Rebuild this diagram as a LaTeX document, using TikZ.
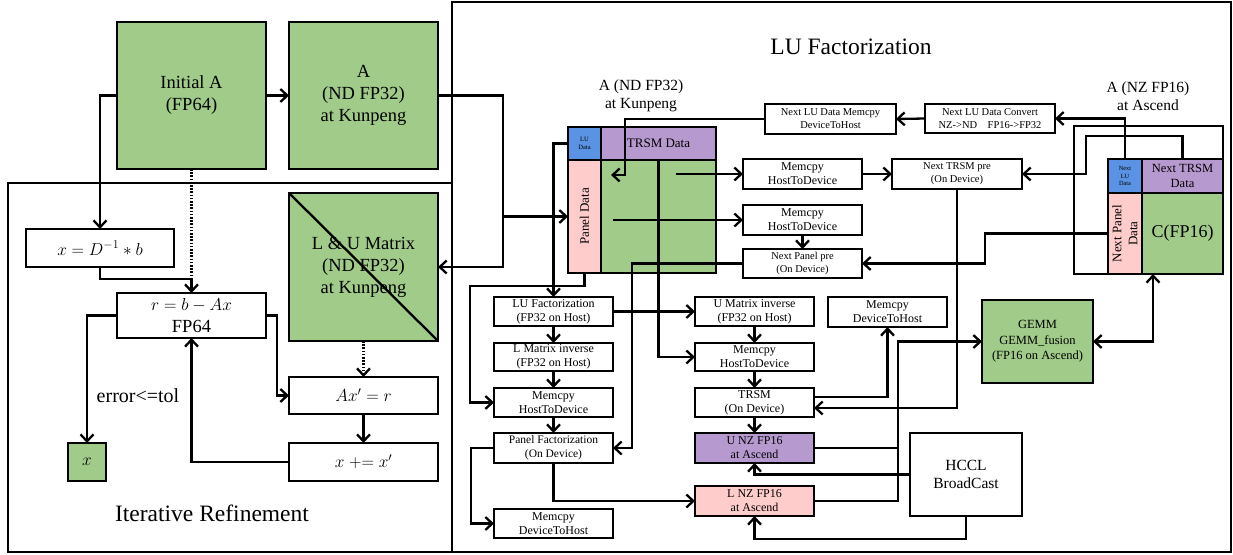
\documentclass[tikz,border=0pt]{standalone}
\usepackage{fontspec}
\setmainfont{Liberation Serif}
\usetikzlibrary{arrows.meta,calc}

\definecolor{mgreen}{HTML}{A1CB89}
\definecolor{mpurple}{HTML}{B699CF}
\definecolor{mblue}{HTML}{5A93E3}
\definecolor{mpink}{HTML}{FFCCCC}

\newcommand\fsz[2]{\fontsize{#1}{#2}\selectfont}
% \mkbox{name}{x1}{y1}{x2}{y2}{style}{text}: a box given by its corners
\newcommand\mkbox[7]{\node[#6, minimum width={(#4-#2)*1pt}, minimum height={(#5-#3)*1pt}] (#1) at ({(#2+#4)/2},{(#3+#5)/2}) {#7};}

\tikzset{
  box/.style={draw, line width=2.3pt, inner sep=0pt, outer sep=0pt, align=center},
  big/.style={box, font=\fsz{18.5}{22}},
  mid/.style={box, font=\fsz{12}{14}},
  small/.style={box, font=\fsz{10.5}{13}},
  wire/.style={line width=2.3pt},
  tip/.style={Straight Barb[length=7pt,width=13pt]},
  arr/.style={wire, -{Straight Barb[length=7pt,width=13pt]}},
  arrboth/.style={wire, {Straight Barb[length=7pt,width=13pt]}-{Straight Barb[length=7pt,width=13pt]}},
  dots/.style={line width=2.3pt, dash pattern=on 1.6pt off 1.6pt},
  title/.style={align=center, inner sep=0pt},
}

\begin{document}
\begin{tikzpicture}[x=1pt, y=-1pt]
\useasboundingbox (0,0) rectangle (1233,554);

% frames
\draw[wire] (8,183) rectangle (452,552);
\draw[wire] (452,2) rectangle (1231,552);
\node[title, font=\fsz{23.5}{28}] (tLU) at (851,47) {LU Factorization};
\node[title, font=\fsz{23.5}{28}] (tIR) at (212,513) {Iterative Refinement};

% ---------- iterative refinement ----------
\mkbox{initA}{117}{22}{266}{169}{big, fill=mgreen}{Initial A\\(FP64)}
\mkbox{aKun}{289}{22}{438}{169}{big, fill=mgreen}{A\\(ND FP32)\\at Kunpeng}
\mkbox{dinv}{26}{229}{174}{267}{big}{$x = D^{-1} * b$}
\mkbox{resid}{117}{293}{266}{338}{big}{$r = b - Ax$\\FP64}
\mkbox{xout}{68}{443}{106}{481}{big, fill=mgreen}{$x$}
\mkbox{luKun}{289}{193}{438}{341}{big, fill=mgreen}{L \& U Matrix\\(ND FP32)\\at Kunpeng}
\mkbox{solve}{289}{377}{438}{414}{big}{$Ax' = r$}
\mkbox{upd}{289}{443}{438}{481}{big}{$x \mathrel{+}= x'$}
\draw[wire] (luKun.north west) -- (luKun.south east);
\node[title, font=\fsz{20}{24}] (tol) at (138,396) {error<=tol};

\coordinate (j1) at (191.5,279);
\draw[arr] (initA.west) -| (dinv.north);
\draw[arr] (initA) -- (aKun);
\draw[dots] (initA.south) -- (j1);
\draw[arr] (dinv.south) |- (j1) -- (resid.north);
\draw[arr] (resid.west) -| (xout.north);
\draw[arr] (resid.east) -- ++(11,0) |- (solve.west);
\draw[arr] (solve) -- (upd);
\draw[arr] (upd.west) -| (resid.south);
\draw[dots, -{Straight Barb[length=7pt,width=13pt]}] (luKun.south) -- (solve.north);

% ---------- A at Kunpeng ----------
\node[title, font=\fsz{15.5}{18.3}] (tKun) at (641,96) {A (ND FP32)\\at Kunpeng};
\mkbox{luD}{568}{127}{601}{160}{box, fill=mblue, font=\fsz{6.5}{8}}{LU\\Data}
\mkbox{trsmD}{601}{127}{716}{160}{box, fill=mpurple, font=\fsz{13}{15}}{TRSM Data}
\mkbox{panel}{568}{160}{601}{273}{box, fill=mpink}{}
\mkbox{trail}{601}{160}{716}{273}{box, fill=mgreen}{}
\node[title, rotate=90, font=\fsz{13}{15}] (panelT) at (panel) {Panel Data};

\coordinate (jA) at (503,216.5);
\draw[arr] (aKun.east) -- ++(65,0) |- (luKun.east);
\draw[arr] (jA) -- (panel.west);

% ---------- host / device steps ----------
\mkbox{nluM}{765}{104}{896}{134}{small}{Next LU Data Memcpy\\DeviceToHost}
\mkbox{nluC}{925}{104}{1055}{133}{small}{Next LU Data Convert\\NZ->ND\quad FP16->FP32}
\mkbox{m1}{743}{159}{862}{189}{mid}{Memcpy\\HostToDevice}
\mkbox{ntrsm}{892}{159}{1022}{189}{small}{Next TRSM pre\\(On Device)}
\mkbox{m2}{743}{205}{862}{235}{mid}{Memcpy\\HostToDevice}
\mkbox{npanel}{743}{249}{862}{278}{small}{Next Panel pre\\(On Device)}

\mkbox{luF}{494}{297}{613}{326}{mid}{LU Factorization\\(FP32 on Host)}
\mkbox{lInv}{494}{343}{613}{371}{mid}{L Matrix inverse\\(FP32 on Host)}
\mkbox{m3}{494}{388}{613}{417}{mid}{Memcpy\\HostToDevice}
\mkbox{pF}{494}{433}{613}{463}{mid, font=\fsz{11.5}{14}}{Panel Factorization\\(On Device)}
\mkbox{m4}{494}{509}{613}{538}{mid}{Memcpy\\DeviceToHost}

\mkbox{uInv}{695}{297}{814}{326}{mid}{U Matrix inverse\\(FP32 on Host)}
\mkbox{m5}{695}{343}{814}{371}{mid}{Memcpy\\HostToDevice}
\mkbox{trsm}{695}{388}{814}{417}{mid}{TRSM\\(On Device)}
\mkbox{uNZ}{695}{433}{814}{463}{mid, fill=mpurple}{U NZ FP16\\at Ascend}
\mkbox{lNZ}{695}{486}{814}{516}{mid, fill=mpink}{L NZ FP16\\at Ascend}
\mkbox{m6}{828}{297}{947}{327}{mid}{Memcpy\\DeviceToHost}

\mkbox{gemm}{982}{300}{1093}{383}{box, fill=mgreen, font=\fsz{12.5}{15.5}}{GEMM\\GEMM\_fusion\\(FP16 on Ascend)}
\mkbox{hccl}{910}{433}{1022}{516}{box, font=\fsz{15.5}{18.3}}{HCCL\\BroadCast}

% ---------- A at Ascend ----------
\node[title, font=\fsz{15.5}{18.3}] (tAsc) at (1148,96) {A (NZ FP16)\\at Ascend};
\mkbox{nluD}{1108}{159}{1142}{193}{box, fill=mblue, font=\fsz{6.3}{7.3}}{Next\\LU\\Data}
\mkbox{ntrsmD}{1142}{159}{1223}{193}{box, fill=mpurple, font=\fsz{12.5}{15}}{Next TRSM\\Data}
\mkbox{npanelD}{1108}{193}{1142}{274}{box, fill=mpink}{}
\mkbox{cfp}{1142}{193}{1223}{274}{box, fill=mgreen, font=\fsz{18}{21}}{C(FP16)}
\node[title, rotate=90, font=\fsz{13}{16}] (npanelT) at (npanelD) {Next Panel\\Data};

% ---------- connectors in the LU part ----------
\coordinate (t1) at (611,175);
\coordinate (s1) at (676,174);
\coordinate (s2) at (613,220);
\coordinate (cIn) at (1153,274);

\draw[arr] (luD.west) -| (luF.north);
\draw[arr] (panel.south) |- (470,286) |- (m3.west);
\draw[arr] (nluM.west) -| (625,175) -- (t1);
\draw[arr] (s1) -- (m1.west);
\draw[arr] (s2) -- (m2.west);
\draw[arr] (trsmD.south) |- (m5.west);
\draw[arr] (npanel.west) -- ++(-111,0) |- (pF.east);
\draw[arr] (m1) -- (ntrsm);
\draw[arr] (m2) -- (npanel);
\draw[arr] (nluC.west) -- (nluM.east);
\draw[arr] (ntrsm.south) |- ($(trsm.east)+(0,5.5)$);
\draw[arr] ($(trsm.east)+(0,-5.5)$) -| (m6.south);

\draw[arr] (luF) -- (lInv);
\draw[arr] (lInv) -- (m3);
\draw[arr] (m3) -- (pF);
\draw[arr] (luF) -- (uInv);
\draw[arr] (pF.west) -- ++(-23,0) |- (m4.west);
\draw[arr] (pF.south) |- (lNZ.west);

\draw[arr] (uInv) -- (m5);
\draw[arr] (m5) -- (trsm);
\draw[arr] (trsm) -- (uNZ);

\draw[wire] (uNZ.east) -- ++(84,0);
\draw[arr] (lNZ.east) -- ++(84,0) |- (gemm.west);
\draw[arr] (hccl.west) -| (uNZ.south);
\draw[arr] (hccl.south) -- ++(0,23) -| (lNZ.south);
\draw[arrboth] (gemm.east) -| (cIn);

\draw[arr] (nluD.north) |- (nluC.east);
\draw[arr] (ntrsmD.north) |- (1086,136) |- (ntrsm.east);
\draw[arr] (npanelD.west) -- ++(-123,0) |- (npanel.east);
\draw[wire] (npanelD.south west) -- ++(-34,0) |- (1223,126) -- (ntrsmD.north east);
\end{tikzpicture}
\end{document}
